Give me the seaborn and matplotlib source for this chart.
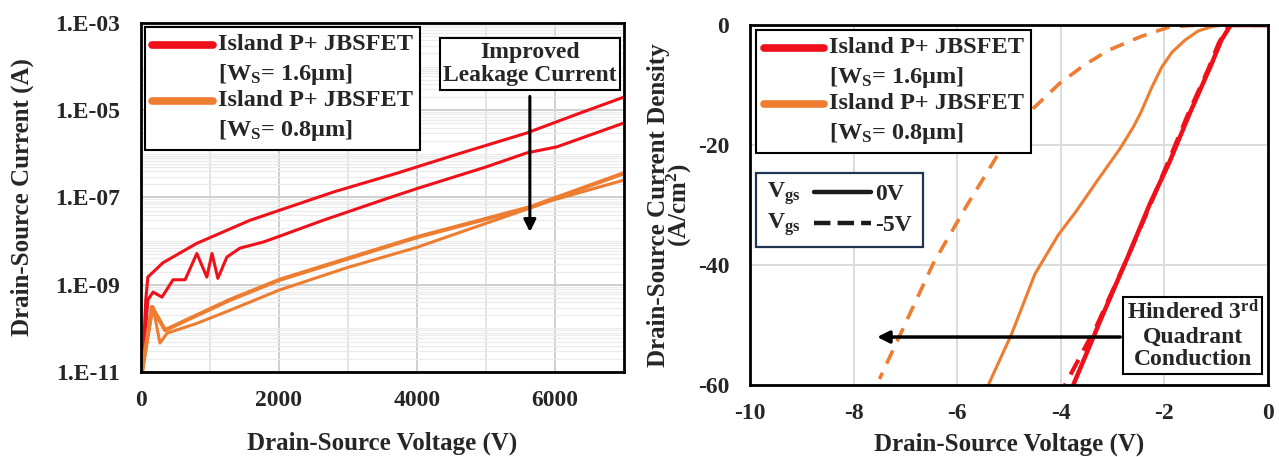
"""Island P+ JBSFET: blocking leakage (left, log) and 3rd-quadrant J-V (right)."""

import numpy as np
import pandas as pd
import matplotlib
matplotlib.use('Agg')
import matplotlib.pyplot as plt
from matplotlib.lines import Line2D
from matplotlib.text import Text
from matplotlib.legend_handler import HandlerLine2D, HandlerBase
from matplotlib.ticker import LogLocator, NullFormatter, FixedLocator
import seaborn as sns

RED = '#F0101A'
ORANGE = '#ED7D31'

# ---- left panel: leakage current vs drain voltage ----
red_hi_v = [20, 70, 100, 320, 810, 1580, 2010, 2800, 3710, 4600, 5590, 6300, 7000]
red_hi_i = [1e-11, 4.5e-10, 1.5e-9, 3.2e-9, 8.9e-9, 3.0e-8, 5.1e-8, 1.35e-7,
            3.6e-7, 1.0e-6, 3.0e-6, 7.9e-6, 2.0e-5]

red_lo_v = [20, 100, 175, 305, 465, 640, 810, 955, 1030, 1115, 1245, 1435,
            1770, 1970, 2640, 3610, 4000, 5000, 5590, 6030, 7000]
red_lo_i = [1e-11, 4.5e-10, 6.8e-10, 5.2e-10, 1.3e-9, 1.3e-9, 5.2e-9, 1.5e-9,
            5.2e-9, 1.4e-9, 4.3e-9, 6.9e-9, 9.5e-9, 1.23e-8, 3.0e-8, 1.0e-7,
            1.6e-7, 5.0e-7, 1.05e-6, 1.45e-6, 5.1e-6]

org_hi_v = [15, 160, 350, 810, 1290, 2010, 3000, 4000, 5640, 7000]
org_hi_i = [1e-11, 3.1e-10, 9.1e-11, 2.0e-10, 4.5e-10, 1.3e-9, 4.0e-9,
            1.23e-8, 6.0e-8, 3.6e-7]

org_lo_v = [15, 175, 275, 380, 810, 1290, 2010, 3000, 4000, 5970, 7000]
org_lo_i = [1e-11, 3.1e-10, 4.6e-11, 7.8e-11, 1.3e-10, 2.6e-10, 7.6e-10,
            2.5e-9, 7.2e-9, 8.7e-8, 2.5e-7]

# ---- right panel: 3rd quadrant current density ----
ws16_0v_v = [0, -0.72, -0.9, -1.11, -1.5, -1.9, -2.28, -2.7, -3.2, -3.76]
ws16_0v_j = [0, 0, -2.5, -6.9, -14.5, -22.8, -29.8, -38.5, -48.5, -60]
ws16_5v_v = [0, -0.75, -0.95, -1.15, -1.55, -1.95, -2.3, -2.75, -3.3, -3.92]
ws16_5v_j = [0, 0, -3.0, -7.3, -15, -23.3, -30.5, -39.5, -50, -60]

ws08_0v_v = [0, -0.9, -1.1, -1.35, -1.6, -1.85, -2.05, -2.25, -2.45, -2.6,
             -2.85, -3.3, -3.7, -4.05, -4.5, -4.95, -5.4]
ws08_0v_j = [0, 0, -0.3, -1.0, -2.5, -4.5, -7.0, -10.5, -14.5, -17, -20.5,
             -26, -31, -35, -41.5, -51.5, -60]
ws08_5v_v = [0, -1.3, -1.9, -2.45, -3.08, -3.55, -4.02, -4.57, -5.2, -5.83,
             -6.46, -7.09, -7.5]
ws08_5v_j = [0, 0, -0.3, -1.9, -4.2, -6.7, -9.7, -14.2, -21.4, -30.3, -39.7,
             -51.4, -59]

leg_labels = ['Island P+ JBSFET\n[W$_\\mathbf{S}$= 1.6\u03bcm]',
              'Island P+ JBSFET\n[W$_\\mathbf{S}$= 0.8\u03bcm]']
log_ticks = [1e-11, 1e-9, 1e-7, 1e-5, 1e-3]
log_labels = ['1.E-11', '1.E-09', '1.E-07', '1.E-05', '1.E-03']

FS_TICK = 17
FS_LAB = 18
FS_LEG = 17.5
LEG_LINESPACING = 1.38


class TopLineHandler(HandlerLine2D):
    """Put the legend line beside the first line of a two-line label."""
    def create_artists(self, legend, orig_handle, xdescent, ydescent,
                       width, height, fontsize, trans):
        arts = super().create_artists(legend, orig_handle, xdescent, ydescent,
                                      width, height, fontsize, trans)
        for a in arts:
            a.set_ydata(np.asarray(a.get_ydata()) + fontsize * 0.62)
        return arts


class VgsHandler(HandlerBase):
    """'V_gs' text followed by the line sample."""
    def create_artists(self, legend, orig_handle, xdescent, ydescent,
                       width, height, fontsize, trans):
        y = height / 2 - ydescent
        txt = Text(-xdescent, y - 1, 'V$_\\mathbf{gs}$', fontsize=fontsize,
                   fontweight='bold', va='center', ha='left', transform=trans)
        x0 = -xdescent + width * 0.45
        line = Line2D([x0, -xdescent + width], [y, y], color='k', lw=3.2,
                      linestyle=orig_handle.get_linestyle(), transform=trans)
        return [txt, line]


def style_axes(ax):
    for s in ax.spines.values():
        s.set_color('black')
        s.set_linewidth(2)
    ax.tick_params(length=0, labelsize=FS_TICK)
    ax.tick_params(axis='x', pad=13)
    ax.tick_params(axis='y', pad=15)


def series_legend(ax, anchor):
    handles = [Line2D([], [], color=RED, lw=5.5, solid_capstyle='round'),
               Line2D([], [], color=ORANGE, lw=5.5, solid_capstyle='round')]
    leg = ax.legend(handles, leg_labels, loc='upper left', bbox_to_anchor=anchor,
                    borderaxespad=0, fancybox=False, edgecolor='black', framealpha=1,
                    fontsize=FS_LEG, handlelength=2.5, handletextpad=0.2,
                    labelspacing=0.12, borderpad=0.3,
                    handler_map={Line2D: TopLineHandler()})
    leg.get_frame().set_linewidth(1.5)
    for t in leg.get_texts():
        t.set_linespacing(LEG_LINESPACING)
    return leg


def main():
    sns.set_theme(style='white')
    plt.rcParams['font.family'] = ['Liberation Serif', 'DejaVu Serif']
    plt.rcParams['font.weight'] = 'bold'
    plt.rcParams['axes.unicode_minus'] = False
    plt.rcParams['mathtext.fontset'] = 'custom'
    plt.rcParams['mathtext.rm'] = 'Liberation Serif:bold'
    plt.rcParams['mathtext.bf'] = 'Liberation Serif:bold'
    plt.rcParams['mathtext.it'] = 'Liberation Serif:bold'

    fig = plt.figure(figsize=(12.79, 4.57), dpi=100)

    # ---------------- left ----------------
    ax1 = fig.add_axes([0.1102, 0.186, 0.3776, 0.7637])
    sns.lineplot(x=red_hi_v, y=red_hi_i, ax=ax1, color=RED, lw=2.2, sort=False)
    sns.lineplot(x=red_lo_v, y=red_lo_i, ax=ax1, color=RED, lw=2.2, sort=False)
    sns.lineplot(x=org_lo_v, y=org_lo_i, ax=ax1, color=ORANGE, lw=2.2, sort=False)
    sns.lineplot(x=org_hi_v, y=org_hi_i, ax=ax1, color=ORANGE, lw=3.0, sort=False)
    ax1.set_yscale('log')
    ax1.set_ylim(1e-11, 1e-3)
    ax1.set_xlim(0, 7000)
    ax1.set_yticks(log_ticks)
    ax1.set_yticklabels(log_labels)
    ax1.yaxis.set_minor_locator(LogLocator(base=10, subs=np.arange(1, 10), numticks=30))
    ax1.yaxis.set_minor_formatter(NullFormatter())
    ax1.set_xticks([0, 2000, 4000, 6000])
    ax1.xaxis.set_minor_locator(FixedLocator([1000, 3000, 5000]))
    ax1.grid(which='major', color='#cfcfcf', lw=1.4)
    ax1.grid(which='minor', axis='y', color='#ebebeb', lw=0.9)
    ax1.grid(which='minor', axis='x', color='#e4e4e4', lw=1.4)
    ax1.set_axisbelow(True)
    style_axes(ax1)
    ax1.tick_params(which='minor', length=0)
    ax1.set_xlabel('Drain-Source Voltage (V)', fontsize=FS_LAB, fontweight='bold', labelpad=15)
    ax1.set_ylabel('Drain-Source Current (A)', fontsize=FS_LAB, fontweight='bold', labelpad=15)

    series_legend(ax1, (0.008, 0.989))

    ax1.text(5637, 1.15e-4, 'Improved\nLeakage Current', ha='center', va='center',
             fontsize=17, fontweight='bold', linespacing=1.15,
             bbox=dict(boxstyle='square,pad=0.15', fc='white', ec='black', lw=1.5))
    ax1.annotate('', xy=(5637, 1.4e-8), xytext=(5637, 2.4e-5),
                 arrowprops=dict(arrowstyle='-|>', color='black', lw=2.2,
                                 mutation_scale=18))

    # ---------------- right ----------------
    ax2 = fig.add_axes([0.5864, 0.1575, 0.405, 0.7877])
    df = pd.concat([
        pd.DataFrame({'v': ws08_5v_v, 'j': ws08_5v_j, 'k': 'o5'}),
        pd.DataFrame({'v': ws08_0v_v, 'j': ws08_0v_j, 'k': 'o0'}),
        pd.DataFrame({'v': ws16_5v_v, 'j': ws16_5v_j, 'k': 'r5'}),
        pd.DataFrame({'v': ws16_0v_v, 'j': ws16_0v_j, 'k': 'r0'}),
    ])
    styles = {'o5': (ORANGE, 2.6, (0, (4, 2.8))), 'o0': (ORANGE, 2.2, '-'),
              'r5': (RED, 3.0, (0, (4, 2.5))), 'r0': (RED, 3.2, '-')}
    for k, sub in df.groupby('k', sort=False):
        c, lw, ls = styles[k]
        sns.lineplot(data=sub, x='v', y='j', ax=ax2, color=c, lw=lw,
                     linestyle=ls, sort=False)
    ax2.set_xlim(-10, 0)
    ax2.set_ylim(-60, 0)
    ax2.set_xticks([-10, -8, -6, -4, -2, 0])
    ax2.set_yticks([0, -20, -40, -60])
    ax2.grid(color='#dcdcdc', lw=1.4)
    ax2.set_axisbelow(True)
    style_axes(ax2)
    ax2.set_xlabel('Drain-Source Voltage (V)', fontsize=FS_LAB, fontweight='bold', labelpad=6)
    ax2.set_ylabel('Drain-Source Current Density\n(A/cm$^\\mathbf{2}$)', fontsize=FS_LAB,
                   fontweight='bold', labelpad=3, linespacing=0.72)

    leg2 = series_legend(ax2, (0.012, 0.986))
    ax2.add_artist(leg2)

    h3 = [Line2D([], [], color='k', ls='-'), Line2D([], [], color='k', ls=(0, (3, 1.6)))]
    leg3 = ax2.legend(h3, ['0V', '-5V'], loc='upper left', bbox_to_anchor=(0.012, 0.589),
                      borderaxespad=0, fancybox=False, edgecolor='#1f3550', framealpha=1,
                      fontsize=17, handlelength=4.4, handletextpad=0.2,
                      labelspacing=0.4, borderpad=0.45,
                      handler_map={Line2D: VgsHandler()})
    leg3.get_frame().set_linewidth(1.6)

    ax2.text(-1.45, -51.7, 'Hindered 3$^\\mathbf{rd}$\nQuadrant\nConduction',
             ha='center', va='center', fontsize=17, fontweight='bold', linespacing=1.12,
             bbox=dict(boxstyle='square,pad=0.15', fc='white', ec='black', lw=1.5))
    ax2.annotate('', xy=(-7.6, -52), xytext=(-2.8, -52),
                 arrowprops=dict(arrowstyle='-|>', color='black', lw=2.5,
                                 mutation_scale=18))

    fig.savefig('out.png', dpi=100)
    plt.close(fig)


if __name__ == '__main__':
    main()
